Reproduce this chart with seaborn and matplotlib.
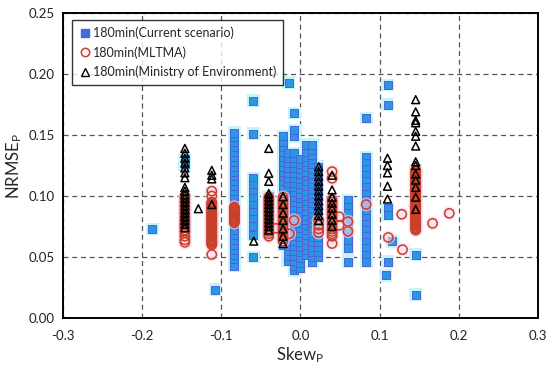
import matplotlib
matplotlib.use("Agg")
import matplotlib.pyplot as plt
import seaborn as sns
import pandas as pd
from matplotlib.lines import Line2D

# ---------------- data ----------------
# 180min (Current scenario): column skew positions and the NRMSE values in each column
cur_skew = [-0.187, -0.108, -0.0835, -0.0595, -0.146, -0.040, -0.022, -0.016,
            -0.0076, -0.001, 0.007, 0.015, 0.022, -0.015, 0.060, 0.083,
            0.110, 0.108, 0.116, 0.1456]
cur_nrmse = [
    [0.073],
    [0.023],
    [0.043, 0.048, 0.052, 0.056, 0.060, 0.064, 0.068, 0.072, 0.076, 0.080, 0.084,
     0.088, 0.092, 0.096, 0.100, 0.104, 0.108, 0.112, 0.116, 0.120, 0.124, 0.128,
     0.132, 0.136, 0.140, 0.144, 0.148, 0.152],
    [0.178, 0.151, 0.1145, 0.109, 0.103, 0.098, 0.093, 0.087, 0.081, 0.075, 0.068, 0.050],
    [0.130, 0.126],
    [0.100, 0.095, 0.090, 0.085, 0.080, 0.075, 0.070],
    [0.060, 0.064, 0.068, 0.072, 0.076, 0.080, 0.084, 0.088, 0.092, 0.096, 0.100,
     0.104, 0.108, 0.112, 0.116, 0.120, 0.124, 0.128, 0.132, 0.136, 0.140, 0.144, 0.149],
    [0.047, 0.051, 0.055, 0.059, 0.063, 0.067, 0.071, 0.075, 0.079, 0.083, 0.087,
     0.091, 0.095, 0.099, 0.103, 0.107, 0.111, 0.115, 0.119, 0.123, 0.127, 0.131, 0.135],
    [0.039, 0.043, 0.047, 0.051, 0.055, 0.059, 0.063, 0.067, 0.071, 0.075, 0.079,
     0.083, 0.087, 0.091, 0.095, 0.099, 0.103, 0.107, 0.111, 0.115, 0.119, 0.123,
     0.127, 0.131, 0.135, 0.149, 0.154, 0.168],
    [0.041, 0.045, 0.049, 0.054, 0.058, 0.062, 0.066, 0.070, 0.074, 0.078, 0.082,
     0.086, 0.090, 0.094, 0.098, 0.102, 0.106, 0.110, 0.114, 0.118, 0.122, 0.126, 0.130],
    [0.052, 0.056, 0.060, 0.064, 0.068, 0.072, 0.076, 0.080, 0.084, 0.088, 0.092,
     0.096, 0.100, 0.104, 0.108, 0.112, 0.116, 0.120, 0.124, 0.128, 0.132, 0.136, 0.142],
    [0.046, 0.050, 0.054, 0.058, 0.062, 0.066, 0.070, 0.074, 0.078, 0.082, 0.086,
     0.090, 0.094, 0.098, 0.102, 0.106, 0.110, 0.114, 0.118, 0.122, 0.126, 0.130,
     0.134, 0.138, 0.142],
    [0.050, 0.054, 0.058, 0.062, 0.066, 0.070, 0.074, 0.078, 0.082, 0.086, 0.090,
     0.094, 0.098, 0.102, 0.106, 0.110, 0.114, 0.118, 0.124],
    [0.193],
    [0.0967, 0.091, 0.086, 0.079, 0.072, 0.064, 0.057, 0.046],
    [0.164, 0.132, 0.127, 0.122, 0.117, 0.112, 0.107, 0.102, 0.097, 0.092, 0.087,
     0.082, 0.077, 0.072, 0.067, 0.062, 0.057, 0.052, 0.046],
    [0.191, 0.175, 0.090, 0.0844, 0.046],
    [0.035],
    [0.063],
    [0.121, 0.052, 0.019],
]

# 180min (MLTMA)
mltma_skew = [-0.146, -0.112, -0.0835, -0.040, -0.022, -0.031, -0.008, -0.014,
              0.023, 0.040, 0.049, 0.060, 0.083, 0.111, 0.128, 0.129, 0.167,
              0.188, 0.1456]
mltma_nrmse = [
    [0.100, 0.097, 0.094, 0.091, 0.088, 0.085, 0.082, 0.080, 0.078, 0.076, 0.074,
     0.072, 0.070, 0.067, 0.064, 0.062],
    [0.104, 0.100, 0.052, 0.060, 0.061, 0.062, 0.063, 0.064, 0.065, 0.066, 0.067,
     0.068, 0.069, 0.070, 0.071, 0.072, 0.073, 0.074, 0.075, 0.076, 0.077, 0.078,
     0.079, 0.080, 0.081, 0.082, 0.083, 0.084, 0.085, 0.086, 0.087, 0.088, 0.089,
     0.090, 0.091, 0.092, 0.093, 0.094, 0.095],
    [0.078, 0.079, 0.080, 0.081, 0.082, 0.083, 0.084, 0.085, 0.086, 0.087, 0.088,
     0.089, 0.090, 0.091],
    [0.067, 0.069, 0.071, 0.073, 0.075, 0.077, 0.079, 0.081, 0.083, 0.085, 0.087,
     0.089, 0.091, 0.093, 0.095, 0.097, 0.099],
    [0.063, 0.065, 0.067, 0.069, 0.071, 0.073, 0.075, 0.077, 0.079, 0.081, 0.083,
     0.085, 0.087, 0.089, 0.091, 0.093, 0.095, 0.097, 0.099],
    [0.0735],
    [0.080],
    [0.069],
    [0.070, 0.073, 0.076, 0.080],
    [0.120, 0.1145, 0.061, 0.067, 0.069, 0.071, 0.073, 0.075, 0.077, 0.079, 0.081,
     0.083, 0.085, 0.087, 0.089, 0.091, 0.093, 0.095, 0.097],
    [0.083, 0.076],
    [0.079, 0.071],
    [0.093],
    [0.066],
    [0.085],
    [0.056],
    [0.0776],
    [0.0858],
    [0.072, 0.073, 0.074, 0.075, 0.076, 0.077, 0.078, 0.079, 0.080, 0.081, 0.082,
     0.083, 0.084, 0.085, 0.086, 0.087, 0.088, 0.089, 0.090, 0.091, 0.092, 0.093,
     0.094, 0.095, 0.096, 0.097, 0.098, 0.099, 0.100, 0.101, 0.102, 0.103, 0.104,
     0.105, 0.106, 0.107, 0.108, 0.109, 0.110, 0.111, 0.112, 0.113, 0.114, 0.115,
     0.116, 0.117, 0.118, 0.119, 0.120, 0.121],
]

# 180min (Ministry of Environment)
moe_skew = [-0.146, -0.129, -0.112, -0.059, -0.040, -0.022, 0.023, 0.040, 0.110, 0.1456]
moe_nrmse = [
    [0.139, 0.135, 0.131, 0.127, 0.123, 0.119, 0.115, 0.107, 0.104, 0.101, 0.098,
     0.095, 0.092, 0.089, 0.086, 0.083, 0.080, 0.077, 0.074],
    [0.0896],
    [0.121, 0.117, 0.114, 0.093],
    [0.063],
    [0.139, 0.1186, 0.112, 0.102, 0.099, 0.096, 0.093, 0.090, 0.087, 0.084, 0.081,
     0.078, 0.075, 0.072],
    [0.0995, 0.093, 0.086, 0.080, 0.073, 0.067, 0.061],
    [0.124, 0.120, 0.116, 0.112, 0.108, 0.104, 0.100, 0.096, 0.092, 0.088, 0.084, 0.080],
    [0.117, 0.105, 0.099, 0.094, 0.090, 0.085, 0.080, 0.075],
    [0.131, 0.125, 0.119, 0.108, 0.0975],
    [0.179, 0.169, 0.162, 0.160, 0.153, 0.149, 0.141, 0.128, 0.125, 0.118, 0.113,
     0.107, 0.099, 0.089],
]

labels = ["180min(Current scenario)", "180min(MLTMA)", "180min(Ministry of Environment)"]
x_ticks = [-0.3, -0.2, -0.1, 0.0, 0.1, 0.2, 0.3]
y_ticks = [0.00, 0.05, 0.10, 0.15, 0.20, 0.25]


def expand(skews, values):
    xs, ys = [], []
    for s, col in zip(skews, values):
        for v in col:
            xs.append(s)
            ys.append(v)
    return pd.DataFrame({"skew": xs, "nrmse": ys})


cur_df = expand(cur_skew, cur_nrmse)
mltma_df = expand(mltma_skew, mltma_nrmse)
moe_df = expand(moe_skew, moe_nrmse)

# ---------------- drawing ----------------
sns.set_style("white")
plt.rcParams["font.family"] = ["Lato", "DejaVu Sans"]

fig = plt.figure(figsize=(5.5, 3.68), dpi=100)
ax = fig.add_axes([0.1145, 0.136, 0.8635, 0.8285])

# series 1: glow + squares
sns.scatterplot(data=cur_df, x="skew", y="nrmse", ax=ax, marker="s", s=85,
                color="#c6f4f8", edgecolor="none", linewidth=0, zorder=2, legend=False)
sns.scatterplot(data=cur_df, x="skew", y="nrmse", ax=ax, marker="s", s=28,
                color="#2b95e6", edgecolor="#4a64d6", linewidth=0.7, zorder=3, legend=False)
# series 2: glow + circles
sns.scatterplot(data=mltma_df, x="skew", y="nrmse", ax=ax, marker="o", s=100,
                color="#fbd3ea", edgecolor="none", linewidth=0, alpha=0.6, zorder=4, legend=False)
sns.scatterplot(data=mltma_df, x="skew", y="nrmse", ax=ax, marker="o", s=44,
                facecolor="none", edgecolor="#c9402a", linewidth=1.1, zorder=5, legend=False)
# series 3: triangles
sns.scatterplot(data=moe_df, x="skew", y="nrmse", ax=ax, marker="^", s=32,
                facecolor="none", edgecolor="black", linewidth=1.1, zorder=6, legend=False)

ax.set_xlim(-0.3, 0.3)
ax.set_ylim(0.0, 0.25)
ax.set_xticks(x_ticks)
ax.set_yticks(y_ticks)
ax.set_xticklabels([f"{v:.1f}" for v in x_ticks])
ax.set_yticklabels([f"{v:.2f}" for v in y_ticks])
ax.tick_params(axis="both", labelsize=9.5, length=3, width=0.8, direction="out",
               colors="#222222", pad=3)
ax.tick_params(axis="x", pad=6)

ax.grid(True, linestyle=(0, (4, 3)), color="#555555", linewidth=0.9)
ax.set_axisbelow(True)
for sp in ax.spines.values():
    sp.set_visible(True)
    sp.set_color("black")
    sp.set_linewidth(1.4)

ax.set_xlabel(r"$\mathregular{Skew_P}$", fontsize=12, labelpad=2)
ax.set_ylabel(r"$\mathregular{NRMSE_P}$", fontsize=12, labelpad=3)

handles = [
    Line2D([], [], linestyle="none", marker="s", markersize=5.5,
           markerfacecolor="#3b6fe0", markeredgecolor="#4a64d6"),
    Line2D([], [], linestyle="none", marker="o", markersize=6,
           markerfacecolor="none", markeredgecolor="#c9402a", markeredgewidth=1.1),
    Line2D([], [], linestyle="none", marker="^", markersize=6,
           markerfacecolor="none", markeredgecolor="black", markeredgewidth=1.0),
]
leg = ax.legend(handles, labels, loc="upper left", bbox_to_anchor=(0.018, 0.978),
                fontsize=9, frameon=True, fancybox=False, handletextpad=0.15,
                handlelength=1.0, borderpad=0.55, labelspacing=0.55, borderaxespad=0)
leg.get_frame().set_edgecolor("black")
leg.get_frame().set_linewidth(1.0)
leg.set_zorder(10)

fig.savefig("out.png", dpi=100)
